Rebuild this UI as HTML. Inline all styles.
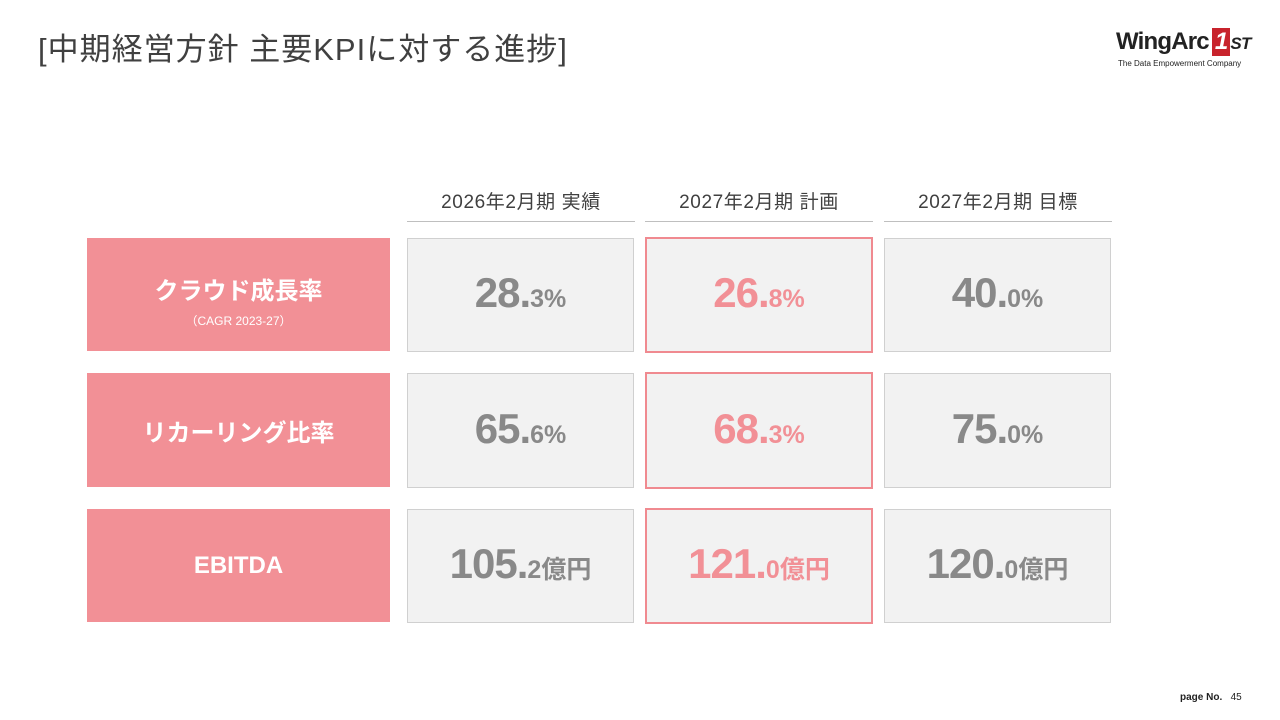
<!DOCTYPE html>
<html><head><meta charset="utf-8">
<style>
body{margin:0;width:1280px;height:720px;background:#fff;position:relative;overflow:hidden;font-family:"Liberation Sans","Noto Sans CJK JP",sans-serif;}
.abs{position:absolute;}
.title{left:38px;top:24px;font-size:31px;color:#404040;letter-spacing:1px;}
.hdr{width:228px;text-align:center;font-size:19px;letter-spacing:0.6px;color:#404040;top:187px;height:34px;border-bottom:1px solid #bfbfbf;}
.lab{left:87px;width:303px;background:#f29096;color:#fff;display:flex;flex-direction:column;align-items:center;justify-content:center;font-weight:bold;font-size:24px;}
.lab small{font-weight:normal;font-size:12px;margin-top:6px;}
.cell{width:225px;background:#f2f2f2;border:1px solid #d0d0d0;display:flex;align-items:center;justify-content:center;color:#898989;font-weight:bold;}
.cell.plan{border:2px solid #f08a90;width:224px;color:#f29096;}
.v{display:block;white-space:nowrap;margin-top:-4px;}
.big{font-size:42px;letter-spacing:-1px;}
.sm{font-size:25px;}
</style></head><body>
<div class="abs title">[中期経営方針 主要KPIに対する進捗]</div>
<div class="abs" style="left:1116px;top:28px;">
<div style="font-size:24px;font-weight:bold;color:#222;letter-spacing:-0.8px;">WingArc<span style="display:inline-block;background:#c8232c;color:#fff;padding:0 3px;font-style:italic;margin-left:3px;">1</span><span style="font-style:italic;font-size:17px;">ST</span></div>
<div style="font-size:8px;color:#222;margin-top:3px;margin-left:2px;">The Data Empowerment Company</div>
</div>
<div class="abs hdr" style="left:407px">2026年2月期 実績</div>
<div class="abs hdr" style="left:645px">2027年2月期 計画</div>
<div class="abs hdr" style="left:884px">2027年2月期 目標</div>

<div class="abs lab" style="top:238px;height:113px"><span style="margin-top:10px">クラウド成長率</span><small>（CAGR 2023-27）</small></div>
<div class="abs lab" style="top:373px;height:114px">リカーリング比率</div>
<div class="abs lab" style="top:509px;height:113px">EBITDA</div>

<div class="abs cell" style="left:407px;top:238px;height:112px"><span class="v"><span class="big">28.</span><span class="sm">3%</span></span></div>
<div class="abs cell plan" style="left:645px;top:237px;height:112px"><span class="v"><span class="big">26.</span><span class="sm">8%</span></span></div>
<div class="abs cell" style="left:884px;top:238px;height:112px"><span class="v"><span class="big">40.</span><span class="sm">0%</span></span></div>

<div class="abs cell" style="left:407px;top:373px;height:113px"><span class="v"><span class="big">65.</span><span class="sm">6%</span></span></div>
<div class="abs cell plan" style="left:645px;top:372px;height:113px"><span class="v"><span class="big">68.</span><span class="sm">3%</span></span></div>
<div class="abs cell" style="left:884px;top:373px;height:113px"><span class="v"><span class="big">75.</span><span class="sm">0%</span></span></div>

<div class="abs cell" style="left:407px;top:509px;height:112px"><span class="v"><span class="big">105.</span><span class="sm">2億円</span></span></div>
<div class="abs cell plan" style="left:645px;top:508px;height:112px"><span class="v"><span class="big">121.</span><span class="sm">0億円</span></span></div>
<div class="abs cell" style="left:884px;top:509px;height:112px"><span class="v"><span class="big">120.</span><span class="sm">0億円</span></span></div>

<div class="abs" style="left:1180px;top:692px;font-size:10px;color:#222;"><b>page No.</b>&nbsp;&nbsp; 45</div>
</body></html>
